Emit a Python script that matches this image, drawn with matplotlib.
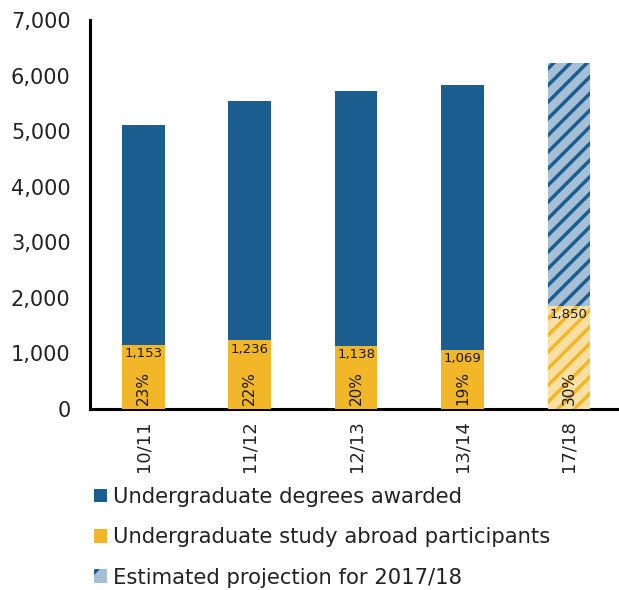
import matplotlib.pyplot as plt
from matplotlib.patches import Patch
from matplotlib.ticker import FuncFormatter

years = ['10/11', '11/12', '12/13', '13/14', '17/18']
degrees = [5110, 5550, 5730, 5830, 6220]
abroad = [1153, 1236, 1138, 1069, 1850]
pct = ['23%', '22%', '20%', '19%', '30%']

blue = '#1b5e8f'
yellow = '#f2b629'
light_blue = '#a5c0d6'
light_yellow = '#f9e0a2'

plt.rcParams['font.family'] = ['DejaVu Sans']
plt.rcParams['hatch.linewidth'] = 2.5

fig = plt.figure(figsize=(6.19, 5.9), dpi=100)
ax = fig.add_axes([90/619, 1 - 409/590, 529/619, 389/590])

x = list(range(len(years)))
w = 0.4
# actual years
ax.bar(x[:-1], degrees[:-1], width=w, color=blue, zorder=2)
ax.bar(x[:-1], abroad[:-1], width=w, color=yellow, zorder=3)
# projection (hatched)
ax.bar(x[-1], degrees[-1], width=w, color=light_blue, edgecolor=blue,
       hatch='//', linewidth=0, zorder=2)
ax.bar(x[-1], abroad[-1], width=w, color=light_yellow, edgecolor=yellow,
       hatch='//', linewidth=0, zorder=3)

for i in x:
    ax.text(i, abroad[i] - 40, f'{abroad[i]:,}', ha='center', va='top',
            fontsize=9.5, color='#1a1a1a', zorder=5)
    ax.text(i, 380, pct[i], ha='center', va='center', rotation=90,
            fontsize=11, color='#1a1a1a', zorder=5)

ax.set_ylim(0, 7000)
ax.set_xlim(-0.5, 4.47)
ax.set_yticks(range(0, 7001, 1000))
ax.yaxis.set_major_formatter(FuncFormatter(lambda v, p: f'{int(v):,}'))
ax.set_xticks(x)
ax.set_xticklabels(years, rotation=90, fontsize=13)
ax.tick_params(axis='y', labelsize=15, length=0, pad=14, labelcolor='#222222')
ax.tick_params(axis='x', length=0, pad=8, labelcolor='#222222')
for s in ['top', 'right']:
    ax.spines[s].set_visible(False)
ax.spines['left'].set_linewidth(2.2)
ax.spines['bottom'].set_linewidth(2.2)

handles = [
    Patch(facecolor=blue, label='Undergraduate degrees awarded'),
    Patch(facecolor=yellow, label='Undergraduate study abroad participants'),
    Patch(facecolor=light_blue, edgecolor=blue, hatch='/', linewidth=0,
          label='Estimated projection for 2017/18'),
]
fig.legend(handles=handles, loc='upper left', bbox_to_anchor=(94/619, 1 - 487/590),
           frameon=False, fontsize=15.2, handlelength=0.62, handleheight=0.62,
           handletextpad=0.3, labelspacing=0.96, borderaxespad=0, borderpad=0,
           labelcolor='#222222')

plt.savefig('out.png', dpi=100)
